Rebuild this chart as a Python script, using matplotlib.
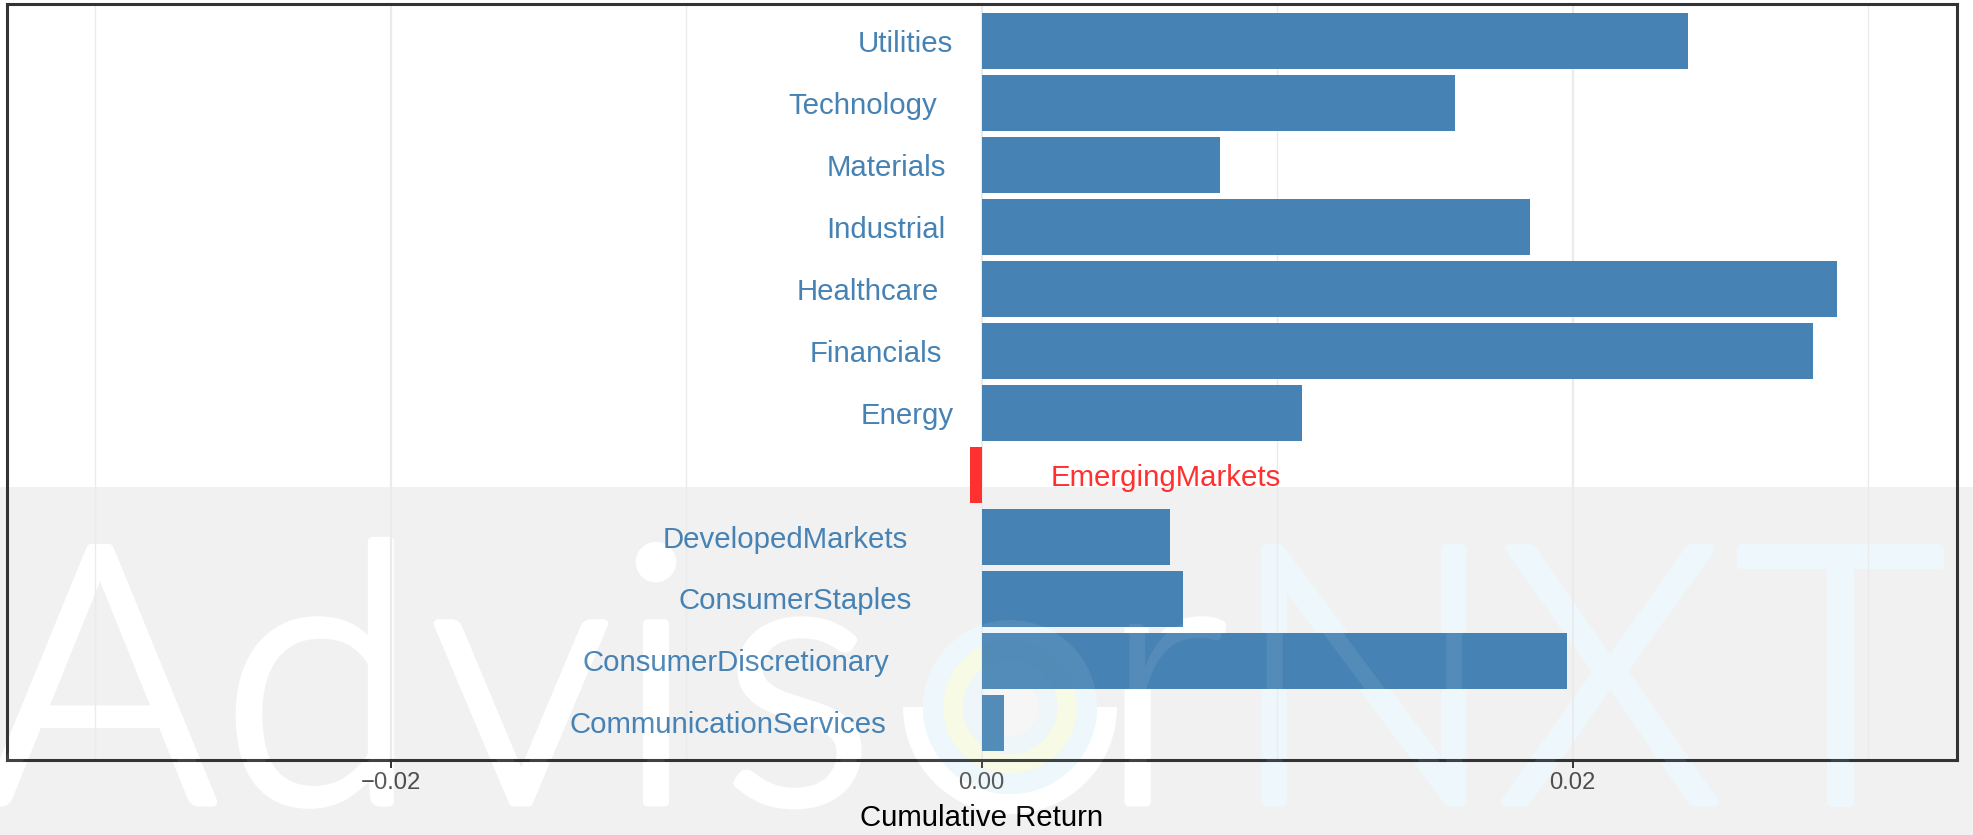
import matplotlib
matplotlib.use("Agg")
import matplotlib.pyplot as plt
import matplotlib.patheffects as pe
from matplotlib.patches import Rectangle, Wedge, Circle
from matplotlib.transforms import offset_copy

# ---------------- data ----------------
categories = ["CommunicationServices", "ConsumerDiscretionary", "ConsumerStaples",
              "DevelopedMarkets", "EmergingMarkets", "Energy", "Financials",
              "Healthcare", "Industrial", "Materials", "Technology", "Utilities"]
returns = [0.00074, 0.01981, 0.00682, 0.00637, -0.00041, 0.01083, 0.02813,
           0.02894, 0.01855, 0.00807, 0.01603, 0.02391]
x_ticks = [-0.02, 0.00, 0.02]
x_tick_labels = ["\u22120.02", "0.00", "0.02"]
x_minor_ticks = [-0.03, -0.01, 0.01, 0.03]
x_limits = [-0.03, 0.03]
x_label = "Cumulative Return"
wm_letters = ["A", "d", "v", "i", "s", "r", "N", "X", "T"]

# ---------------- style ----------------
POS = "#4682B4"
NEG = "#FF3030"
FONT = ["Liberation Sans", "DejaVu Sans"]
W, H = 1973, 835
LABEL_SIZE = 21.2

fig = plt.figure(figsize=(W / 100, H / 100), dpi=100)
fig.patch.set_facecolor("white")


def watermark(axw, alpha, band, stroke):
    axw.set_xlim(0, W)
    axw.set_ylim(H, 0)
    axw.axis("off")
    if band:
        axw.add_patch(Rectangle((0, 487), W, H - 487, facecolor="#F1F1F1", lw=0))
    centers = [100, 320, 521, 656, 798, 1163, 1364, 1610, 1840]
    cols = ["white"] * 6 + ["#EEF8FC"] * 3
    for ch, xc, col in zip(wm_letters, centers, cols):
        effects = [pe.withStroke(linewidth=6.5, foreground=col)] if stroke else []
        axw.text(xc, 802, ch, ha="center", va="baseline", fontsize=258,
                 family=["Lato", "DejaVu Sans"], fontweight=300,
                 color=col, alpha=alpha, path_effects=effects)
    cx, cy = 1010, 707
    axw.add_patch(Wedge((cx, cy), 107, 0, 180, width=20, facecolor="white", lw=0, alpha=alpha))
    axw.add_patch(Wedge((cx, cy), 87, 0, 360, width=20, facecolor="#EEF8FC", lw=0, alpha=alpha))
    axw.add_patch(Wedge((cx, cy), 67, 0, 360, width=20, facecolor="#F7FBE6", lw=0, alpha=alpha))
    axw.add_patch(Wedge((cx, cy), 47, 0, 360, width=18, facecolor="#EEF6FA", lw=0, alpha=alpha))
    axw.add_patch(Circle((cx, cy), 29, facecolor="#F6F6F6", lw=0, alpha=alpha))


# background watermark layer
wax = fig.add_axes([0, 0, 1, 1], zorder=-1)
watermark(wax, 1.0, True, True)

# main axes
ax = fig.add_axes([6.7 / W, (H - 760) / H, (1956.7 - 6.7) / W, (760 - 4) / H], zorder=1)
ax.patch.set_alpha(0)
lo, hi = x_limits
pad = 0.05 * (hi - lo)
ax.set_xlim(lo - pad, hi + pad)
ax.set_ylim(-0.6, len(categories) - 0.4)

ys = list(range(len(categories)))
colors = [POS if v >= 0 else NEG for v in returns]
ax.barh(ys, returns, height=0.9, color=colors, zorder=2)

ax.set_xticks(x_ticks)
ax.set_xticklabels(x_tick_labels, family=FONT)
ax.set_xticks(x_minor_ticks, minor=True)
ax.set_yticks([])
ax.grid(which="major", axis="x", color="#EBEBEB", lw=1.6, zorder=0)
ax.grid(which="minor", axis="x", color="#EBEBEB", lw=1.0, zorder=0)
ax.set_axisbelow(True)
ax.tick_params(axis="x", which="major", length=5.8, width=1.4, color="#333333",
               labelsize=17.2, labelcolor="#4D4D4D", pad=3)
ax.tick_params(axis="x", which="minor", length=0)
for s in ax.spines.values():
    s.set_color("#333333")
    s.set_linewidth(2.2)
ax.set_xlabel(x_label, fontsize=LABEL_SIZE, family=FONT, color="black", labelpad=7)

texts = []
for y, c, v in zip(ys, categories, returns):
    t = ax.text(0, y, c, ha="right" if v >= 0 else "left", va="baseline",
                fontsize=LABEL_SIZE, family=FONT, color=POS if v >= 0 else NEG,
                zorder=3, transform=offset_copy(ax.transData, fig, x=0, y=-10.6, units="dots"))
    texts.append((t, v))

fig.canvas.draw()
r = fig.canvas.get_renderer()
for t, v in texts:
    w = t.get_window_extent(r).width
    dx = -0.3 * w if v >= 0 else 0.3 * w
    t.set_transform(offset_copy(ax.transData, fig, x=dx, y=-10.6, units="dots"))

# faint overlay of the watermark on top
oax = fig.add_axes([0, 0, 1, 1], zorder=5)
oax.patch.set_alpha(0)
watermark(oax, 0.08, False, False)

fig.savefig("out.png", dpi=100, facecolor="white")
